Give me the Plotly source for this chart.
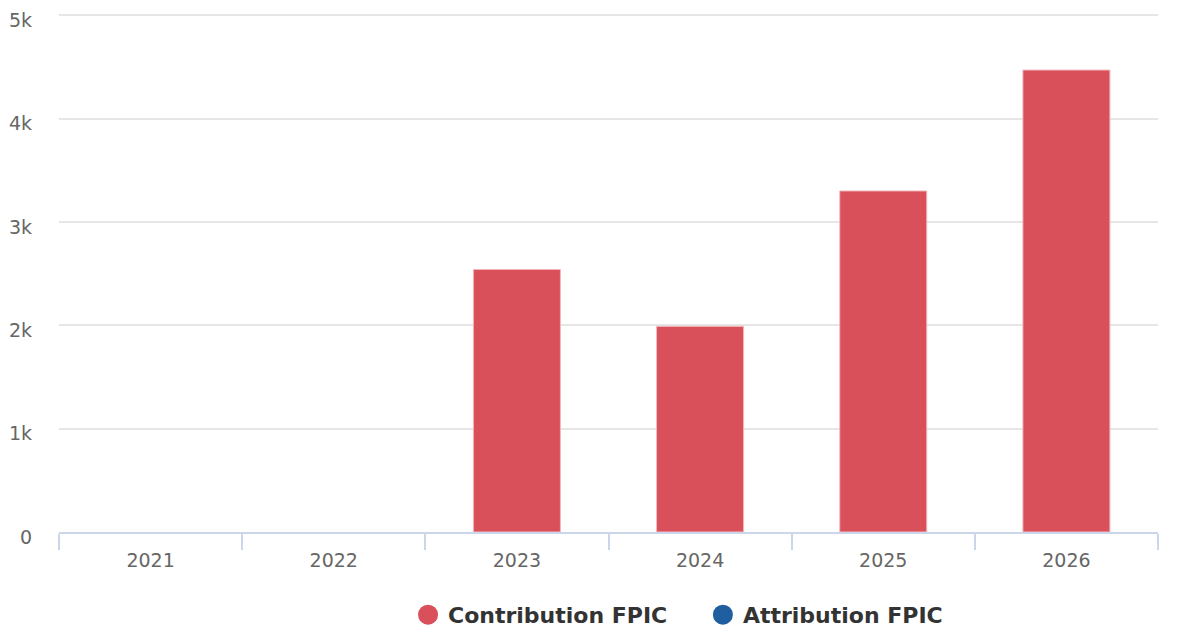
import plotly.graph_objects as go

years = ["2021", "2022", "2023", "2024", "2025", "2026"]
contribution = [None, None, 2540, 1990, 3300, 4470]
attribution = [None, None, None, None, None, None]

red = "#d9505a"
blue = "#1f5fa0"

fig = go.Figure()
fig.add_trace(go.Bar(x=years, y=contribution, name="Contribution FPIC",
                     marker=dict(color=red, line=dict(color="#f2b8bc", width=1)),
                     showlegend=False))
fig.add_trace(go.Bar(x=years, y=attribution, name="Attribution FPIC",
                     marker=dict(color=blue), showlegend=False))
# legend entries with circle symbols
fig.add_trace(go.Scatter(x=[None], y=[None], mode="markers", name="Contribution FPIC    ",
                         marker=dict(symbol="circle", size=22, color=red,
                                     line=dict(color=red, width=4))))
fig.add_trace(go.Scatter(x=[None], y=[None], mode="markers", name="Attribution FPIC",
                         marker=dict(symbol="circle", size=22, color=blue,
                                     line=dict(color=blue, width=4))))

fig.update_layout(
    width=1181, height=628,
    margin=dict(l=59, r=23, t=14, b=96, autoexpand=False),
    paper_bgcolor="white", plot_bgcolor="white",
    barmode="overlay", bargap=0.525,
    font=dict(family="DejaVu Sans", color="#666666", size=18),
    legend=dict(orientation="h", x=0.3176, xanchor="left", y=-0.16, yanchor="middle",
                font=dict(size=22, color="#333333", family="DejaVu Sans", weight="bold"),
                itemsizing="trace", tracegroupgap=0),
)
fig.update_xaxes(type="category", tickson="boundaries", ticks="outside", ticklen=16,
                 tickcolor="#ccd6eb", tickwidth=1.5, showline=True, linecolor="#ccd6eb",
                 linewidth=1.5, showgrid=False, tickfont=dict(size=19, color="#666666"),
                 range=[-0.5, 5.5], automargin=False, ticklabelstandoff=10)
fig.update_yaxes(range=[0, 5012], tickvals=[0, 1000, 2000, 3000, 4000, 5000],
                 ticktext=["0", "1k", "2k", "3k", "4k", "5k"],
                 showgrid=True, gridcolor="#e6e6e6", gridwidth=1.5, zeroline=False,
                 showline=False, ticks="", ticklabelstandoff=26, ticklabelshift=5,
                 automargin=False, tickfont=dict(size=19, color="#666666"))

fig.write_html("out.html", config={"displayModeBar": False},
               post_script="document.body.style.margin='0';document.body.style.overflow='hidden';")
